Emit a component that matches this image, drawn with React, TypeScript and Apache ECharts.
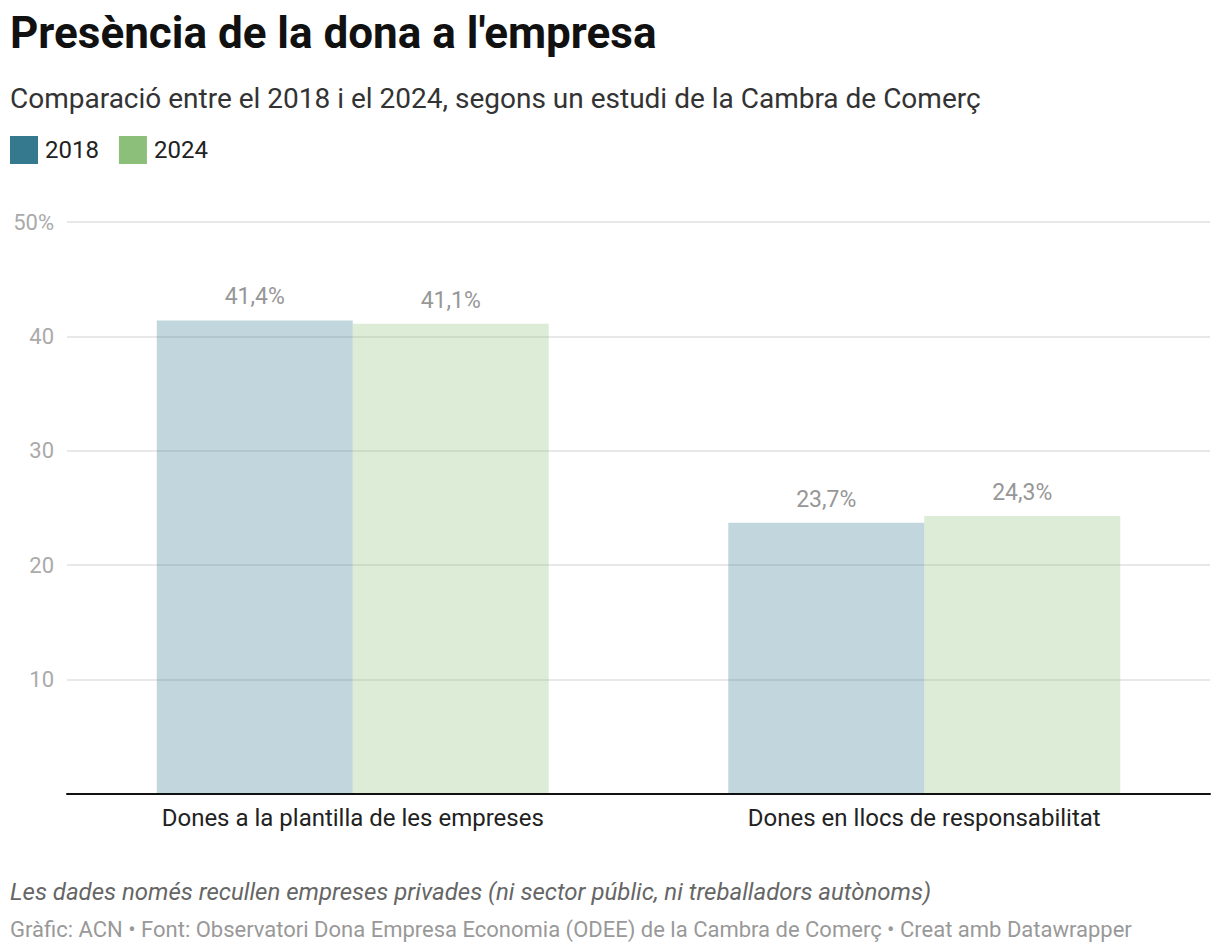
import React, { useEffect, useRef } from "react";
import * as echarts from "echarts";

const categories = ["Dones a la plantilla de les empreses", "Dones en llocs de responsabilitat"];
const seriesNames = ["2018", "2024"];
const values2018 = [41.4, 23.7];
const values2024 = [41.1, 24.3];
const yTicks = [0, 10, 20, 30, 40, 50];

const FONT = "Roboto, 'Noto Sans', sans-serif";
const C2018 = "#35798f";
const C2024 = "#8cbf7a";

const fmt = (v: number) => v.toFixed(1).replace(".", ",") + "%";

export default function App() {
  const ref = useRef<HTMLDivElement>(null);
  useEffect(() => {
    document.body.style.margin = "0";
    const chart = echarts.init(ref.current!, null, { renderer: "svg" });
    const mkSeries = (name: string, data: number[], color: string) => ({
      name,
      type: "bar",
      data,
      barWidth: 196,
      barGap: "0%",
      itemStyle: { color, opacity: 0.3 },
      label: {
        show: true,
        position: "top",
        distance: 12,
        opacity: 1,
        formatter: (p: any) => fmt(p.value),
        color: "#979797",
        fontSize: 23,
        fontFamily: FONT,
      },
      emphasis: { disabled: true },
    });
    chart.setOption({
      animation: false,
      textStyle: { fontFamily: FONT },
      title: [
        {
          text: "Presència de la dona a l'empresa",
          left: 5,
          top: 6,
          textStyle: { fontSize: 44, fontWeight: "bold", color: "#111", fontFamily: FONT },
        },
        {
          text: "Comparació entre el 2018 i el 2024, segons un estudi de la Cambra de Comerç",
          left: 5,
          top: 79,
          textStyle: { fontSize: 28, fontWeight: "normal", color: "#333", fontFamily: FONT },
        },
        {
          text: "Les dades només recullen empreses privades (ni sector públic, ni treballadors autònoms)",
          left: 5,
          top: 875,
          textStyle: { fontSize: 24, fontWeight: "normal", fontStyle: "italic", color: "#666", fontFamily: FONT },
        },
        {
          text: "Gràfic: ACN • Font: Observatori Dona Empresa Economia (ODEE) de la Cambra de Comerç • Creat amb Datawrapper",
          left: 5,
          top: 913,
          textStyle: { fontSize: 22, fontWeight: "normal", color: "#999", fontFamily: FONT },
        },
      ],
      legend: {
        left: 5,
        top: 131,
        icon: "rect",
        itemWidth: 28,
        itemHeight: 28,
        itemGap: 20,
        selectedMode: false,
        textStyle: { fontSize: 24, color: "#222", fontFamily: FONT, padding: [0, 0, 0, 2] },
        data: [
          { name: seriesNames[0], itemStyle: { color: C2018, opacity: 1 } },
          { name: seriesNames[1], itemStyle: { color: C2024, opacity: 1 } },
        ],
      },
      grid: { left: 67, right: 10, top: 222, bottom: 158, containLabel: false },
      xAxis: {
        type: "category",
        data: categories,
        axisLine: { lineStyle: { color: "#111", width: 2 } },
        axisTick: { show: false },
        axisLabel: { fontSize: 24, color: "#222", margin: 12, fontFamily: FONT },
        z: 10,
      },
      yAxis: {
        type: "value",
        min: yTicks[0],
        max: yTicks[yTicks.length - 1],
        interval: 10,
        axisLine: { show: false },
        axisTick: { show: false },
        splitLine: { lineStyle: { color: "#e0e0e0", width: 1.5 } },
        axisLabel: {
          fontSize: 22,
          color: "#aaa",
          margin: 13,
          fontFamily: FONT,
          formatter: (v: number) => (v === 0 ? "" : v === 50 ? "50%" : String(v)),
        },
      },
      series: [
        mkSeries(seriesNames[0], values2018, C2018),
        mkSeries(seriesNames[1], values2024, C2024),
      ],
    });
    return () => chart.dispose();
  }, []);
  return <div ref={ref} style={{ width: 1220, height: 952 }} />;
}
